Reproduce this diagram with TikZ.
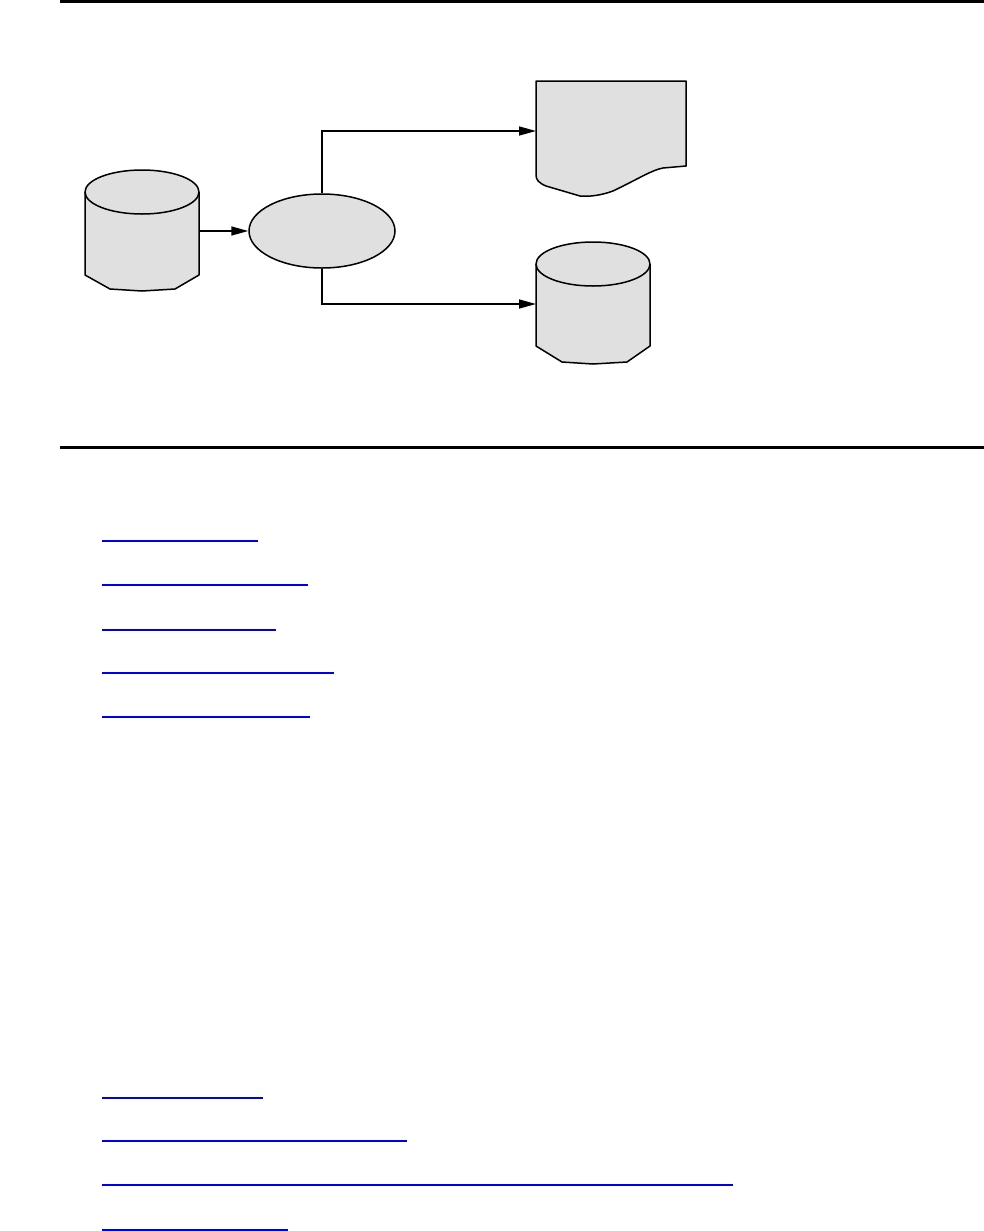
\documentclass[tikz,border=0pt]{standalone}
\usetikzlibrary{arrows.meta,shapes.geometric}
\definecolor{shapefill}{RGB}{224,224,224}
\definecolor{linkblue}{RGB}{0,0,230}
\tikzset{
  shp/.style={draw=black,fill=shapefill,line width=1.5bp,line join=round},
  conn/.style={draw=black,line width=1.5bp,-{Triangle[length=17bp,width=9bp]}},
  rulel/.style={draw=black,line width=2.2bp},
  link/.style={draw=linkblue,line width=1.1bp}
}
\begin{document}
\begin{tikzpicture}[x=1bp,y=-1bp]
\useasboundingbox (0,0) rectangle (984,1231);
% rules
\coordinate (r1a) at (60,1.5); \coordinate (r1b) at (984,1.5);
\coordinate (r2a) at (60,447.5); \coordinate (r2b) at (984,447.5);
\draw[rulel] (r1a) -- (r1b);
\draw[rulel] (r2a) -- (r2b);
% left cylinder
\filldraw[shp] (85,192) -- (85,275) -- (110,289) -- (142,291) -- (175,289) -- (199,275) -- (199,192);
\filldraw[shp] (142,192) ellipse [x radius=57, y radius=22];
\coordinate (c1e) at (199,231);
% process ellipse
\node[shp,ellipse,minimum width=146bp,minimum height=74bp,inner sep=0pt] (proc) at (322,231) {};
% document shape
\filldraw[shp] (536,81) -- (686,81) -- (686,166) -- (663,168)
  .. controls (652,170) and (640,178) .. (613,191)
  .. controls (602,195) and (590,197) .. (580,196)
  -- (546,186) .. controls (539,183) and (536,180) .. (536,175) -- cycle;
\coordinate (docin) at (536,131);
% lower cylinder
\filldraw[shp] (536,264) -- (536,346) -- (562,362) -- (593,364) -- (627,362) -- (650,346) -- (650,264);
\filldraw[shp] (593,264) ellipse [x radius=57, y radius=22];
\coordinate (db2in) at (536,304);
% connectors
\draw[conn] (c1e) -- (proc.west);
\draw[conn] (proc.north) |- (docin);
\draw[conn] (proc.south) |- (db2in);
% link underlines
\draw[link] (102,541) -- (258,541);
\draw[link] (102,585) -- (308,585);
\draw[link] (102,630) -- (276,630);
\draw[link] (102,673) -- (334,673);
\draw[link] (102,717) -- (310,717);
\draw[link] (102,1098) -- (263,1098);
\draw[link] (102,1141) -- (407,1141);
\draw[link] (102,1185) -- (733,1185);
\draw[link] (102,1230) -- (288,1230);
\end{tikzpicture}
\end{document}
